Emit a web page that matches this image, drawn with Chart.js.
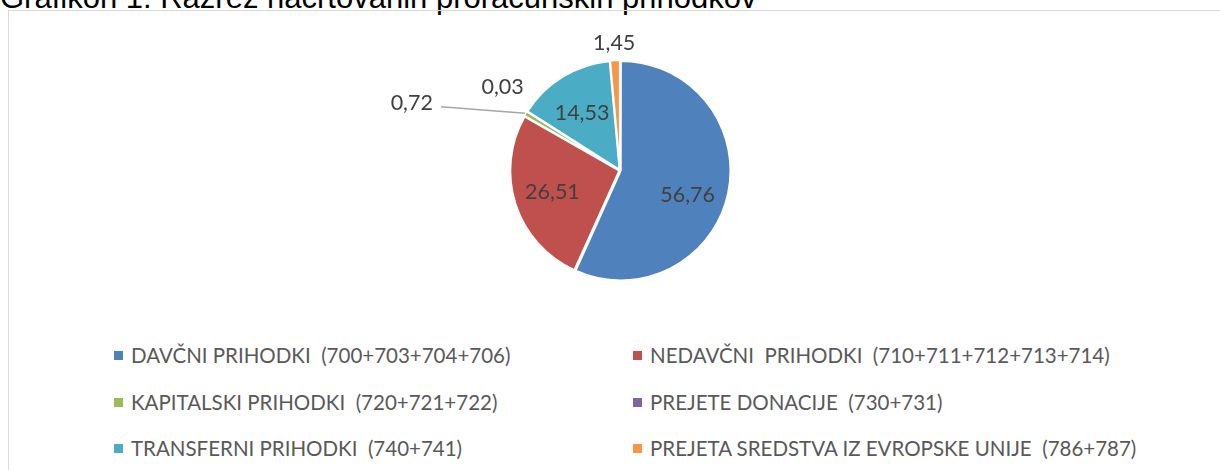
<!DOCTYPE html>
<html>
<head>
    <meta charset="UTF-8">
    <title>Grafikon 1</title>
    <style>
        body {
            margin: 0;
            width: 1220px;
            height: 470px;
            overflow: hidden;
            background: #fff;
            position: relative;
        }

        #title {
            position: absolute;
            left: 0;
            top: -18px;
            font: 31px "Liberation Sans", Arial, sans-serif;
            line-height: 1;
            color: #000;
            white-space: nowrap;
        }

        #frame {
            position: absolute;
            left: 8px;
            top: 10px;
            width: 1230px;
            height: 480px;
            border: 1px solid #d9d9d9;
        }

        #pieWrap {
            position: absolute;
            left: 360px;
            top: 20px;
            width: 520px;
            height: 301px;
        }

        #legend {
            position: absolute;
            left: 0;
            top: 0;
            font: 20.5px Lato, sans-serif;
            color: #595959;
        }

        .item {
            position: absolute;
            white-space: pre;
            line-height: 24px;
            height: 24px;
        }

        .box {
            position: absolute;
            width: 9px;
            height: 9px;
            top: 8px;
        }
    </style>
</head>
<body>
    <div id="title">Grafikon 1: Razrez načrtovanih proračunskih prihodkov</div>
    <div id="frame"></div>
    <div id="pieWrap"><canvas id="myChart"></canvas></div>
    <div id="legend"></div>

    <script src="https://cdn.jsdelivr.net/npm/chart.js"></script>
    <script>
        // data (percent shares)
        const categories = [
            'DAVČNI PRIHODKI  (700+703+704+706)',
            'NEDAVČNI  PRIHODKI  (710+711+712+713+714)',
            'KAPITALSKI PRIHODKI  (720+721+722)',
            'PREJETE DONACIJE  (730+731)',
            'TRANSFERNI PRIHODKI  (740+741)',
            'PREJETA SREDSTVA IZ EVROPSKE UNIJE  (786+787)'
        ];
        const shares = [56.76, 26.51, 0.72, 0.03, 14.53, 1.45];
        const sliceColors = ['#4F81BD', '#C0504D', '#9BBB59', '#8064A2', '#4BACC6', '#F79646'];

        // where each value label goes: distance from centre (px) and turn off the mid angle (deg)
        const labelSpots = [
            { dist: 72, turn: 8 },
            { dist: 71, turn: 0 },
            { dist: 219, turn: -13, leader: { dist: 190, turn: -11.5 } },
            { dist: 144, turn: 3 },
            { dist: 69, turn: -2 },
            { dist: 128, turn: 0 }
        ];

        const fmt = v => v.toFixed(2).replace('.', ',');

        const valueLabels = {
            id: 'valueLabels',
            afterDatasetsDraw(chart) {
                const ctx = chart.ctx;
                const meta = chart.getDatasetMeta(0);
                ctx.save();
                ctx.font = '21.5px Lato, sans-serif';
                ctx.fillStyle = '#404040';
                ctx.textAlign = 'center';
                ctx.textBaseline = 'middle';
                meta.data.forEach(function (arc, i) {
                    const p = arc.getProps(['x', 'y', 'startAngle', 'endAngle', 'outerRadius'], true);
                    const mid = (p.startAngle + p.endAngle) / 2;
                    const spot = labelSpots[i];
                    const a = mid + spot.turn * Math.PI / 180;
                    const lx = p.x + spot.dist * Math.cos(a);
                    const ly = p.y + spot.dist * Math.sin(a);
                    if (spot.leader) {
                        const r0 = p.outerRadius + 2;
                        const b = mid + spot.leader.turn * Math.PI / 180;
                        ctx.beginPath();
                        ctx.strokeStyle = '#a6a6a6';
                        ctx.lineWidth = 1.5;
                        ctx.moveTo(p.x + r0 * Math.cos(mid), p.y + r0 * Math.sin(mid));
                        ctx.lineTo(p.x + spot.leader.dist * Math.cos(b), p.y + spot.leader.dist * Math.sin(b));
                        ctx.stroke();
                    }
                    ctx.fillText(fmt(shares[i]), lx, ly);
                });
                ctx.restore();
            }
        };

        const ctx = document.getElementById('myChart').getContext('2d');
        const myChart = new Chart(ctx, {
            type: 'pie',
            data: {
                labels: categories,
                datasets: [{
                    data: shares,
                    backgroundColor: sliceColors,
                    borderColor: '#ffffff',
                    borderWidth: 2,
                    offset: 3
                }]
            },
            options: {
                responsive: true,
                maintainAspectRatio: false,
                animation: false,
                radius: 109,
                layout: { padding: 0 },
                plugins: {
                    legend: { display: false },
                    tooltip: { enabled: false }
                }
            },
            plugins: [valueLabels]
        });

        // legend in two columns, like the original
        const legend = document.getElementById('legend');
        const colX = [114, 633];
        const rowY = [343, 390, 436];
        categories.forEach(function (name, i) {
            const item = document.createElement('div');
            item.className = 'item';
            item.style.left = colX[i % 2] + 'px';
            item.style.top = rowY[Math.floor(i / 2)] + 'px';
            item.style.paddingLeft = '17px';
            const box = document.createElement('span');
            box.className = 'box';
            box.style.left = '0px';
            box.style.background = sliceColors[i];
            item.appendChild(box);
            item.appendChild(document.createTextNode(name));
            legend.appendChild(item);
        });
    </script>
</body>
</html>
